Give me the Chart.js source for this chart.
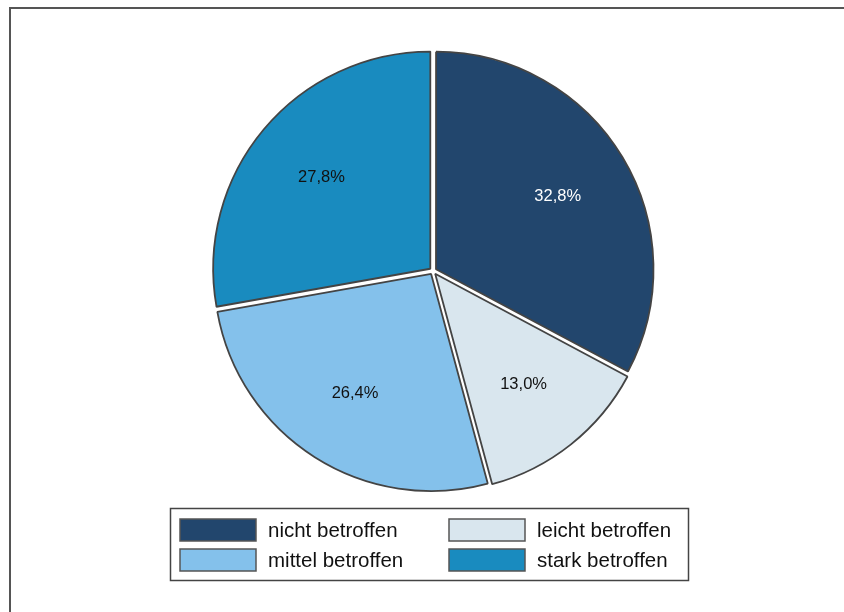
<!DOCTYPE html>
<html>
<head>
<meta charset="utf-8">
<script src="https://cdn.jsdelivr.net/npm/chart.js@4.4.1/dist/chart.umd.min.js"></script>
<style>
  html, body { margin: 0; padding: 0; background: #fff; overflow: hidden; }
  #frame {
    position: absolute; left: 9px; top: 7px;
    width: 900px; height: 700px;
    border: 2px solid #555;
  }
  #wrap { position: absolute; left: 0; top: 0; width: 844px; height: 612px; }
</style>
</head>
<body>
<div id="frame"></div>
<div id="wrap"><canvas id="pieChart" width="844" height="612"></canvas></div>
<script>
// Betroffenheit - Anteile in Prozent
const categories = ['nicht betroffen', 'leicht betroffen', 'mittel betroffen', 'stark betroffen'];
const shares = [32.8, 13.0, 26.4, 27.8];
const sliceColors = ['#22466d', '#d9e6ee', '#84c1eb', '#198bbf'];
const labelColors = ['#ffffff', '#111111', '#111111', '#111111'];

const fmt = v => v.toFixed(1).replace('.', ',') + '%';

// percentage labels inside each slice, at ~2/3 of the radius
const sliceLabels = {
    id: 'sliceLabels',
    afterDatasetsDraw(chart) {
        const ctx = chart.ctx;
        const meta = chart.getDatasetMeta(0);
        ctx.save();
        ctx.font = '16.5px "Liberation Sans", Arial, sans-serif';
        ctx.textAlign = 'center';
        ctx.textBaseline = 'middle';
        meta.data.forEach((arc, i) => {
            const p = arc.getProps(['x', 'y', 'startAngle', 'endAngle', 'outerRadius'], true);
            const mid = (p.startAngle + p.endAngle) / 2;
            const r = p.outerRadius * 0.67;
            ctx.fillStyle = labelColors[i];
            ctx.fillText(fmt(shares[i]), p.x + Math.cos(mid) * r, p.y + Math.sin(mid) * r);
        });
        ctx.restore();
    }
};

// boxed two-column legend underneath the pie
const boxLegend = {
    id: 'boxLegend',
    afterDraw(chart) {
        const ctx = chart.ctx;
        ctx.save();
        ctx.strokeStyle = '#444';
        ctx.lineWidth = 1.5;
        ctx.strokeRect(170.5, 508.5, 518, 72);
        ctx.font = '20.5px "Liberation Sans", Arial, sans-serif';
        ctx.textBaseline = 'middle';
        const cols = [180, 449];
        const rows = [519, 549];
        categories.forEach((name, i) => {
            const x = cols[i % 2];
            const y = rows[Math.floor(i / 2)];
            ctx.fillStyle = sliceColors[i];
            ctx.fillRect(x, y, 76, 22);
            ctx.strokeStyle = '#555';
            ctx.lineWidth = 1.5;
            ctx.strokeRect(x, y, 76, 22);
            ctx.fillStyle = '#111';
            ctx.fillText(name, x + 88, y + 12);
        });
        ctx.restore();
    }
};

new Chart(document.getElementById('pieChart').getContext('2d'), {
    type: 'pie',
    data: {
        labels: categories,
        datasets: [{
            data: shares,
            backgroundColor: sliceColors,
            borderColor: '#444',
            borderWidth: 1.8,
            offset: 14,
            hoverOffset: 14
        }]
    },
    options: {
        responsive: false,
        animation: false,
        layout: { padding: { top: 46, bottom: 116, left: 208, right: 186 } },
        plugins: {
            legend: { display: false },
            tooltip: { enabled: false }
        }
    },
    plugins: [sliceLabels, boxLegend]
});
</script>
</body>
</html>
